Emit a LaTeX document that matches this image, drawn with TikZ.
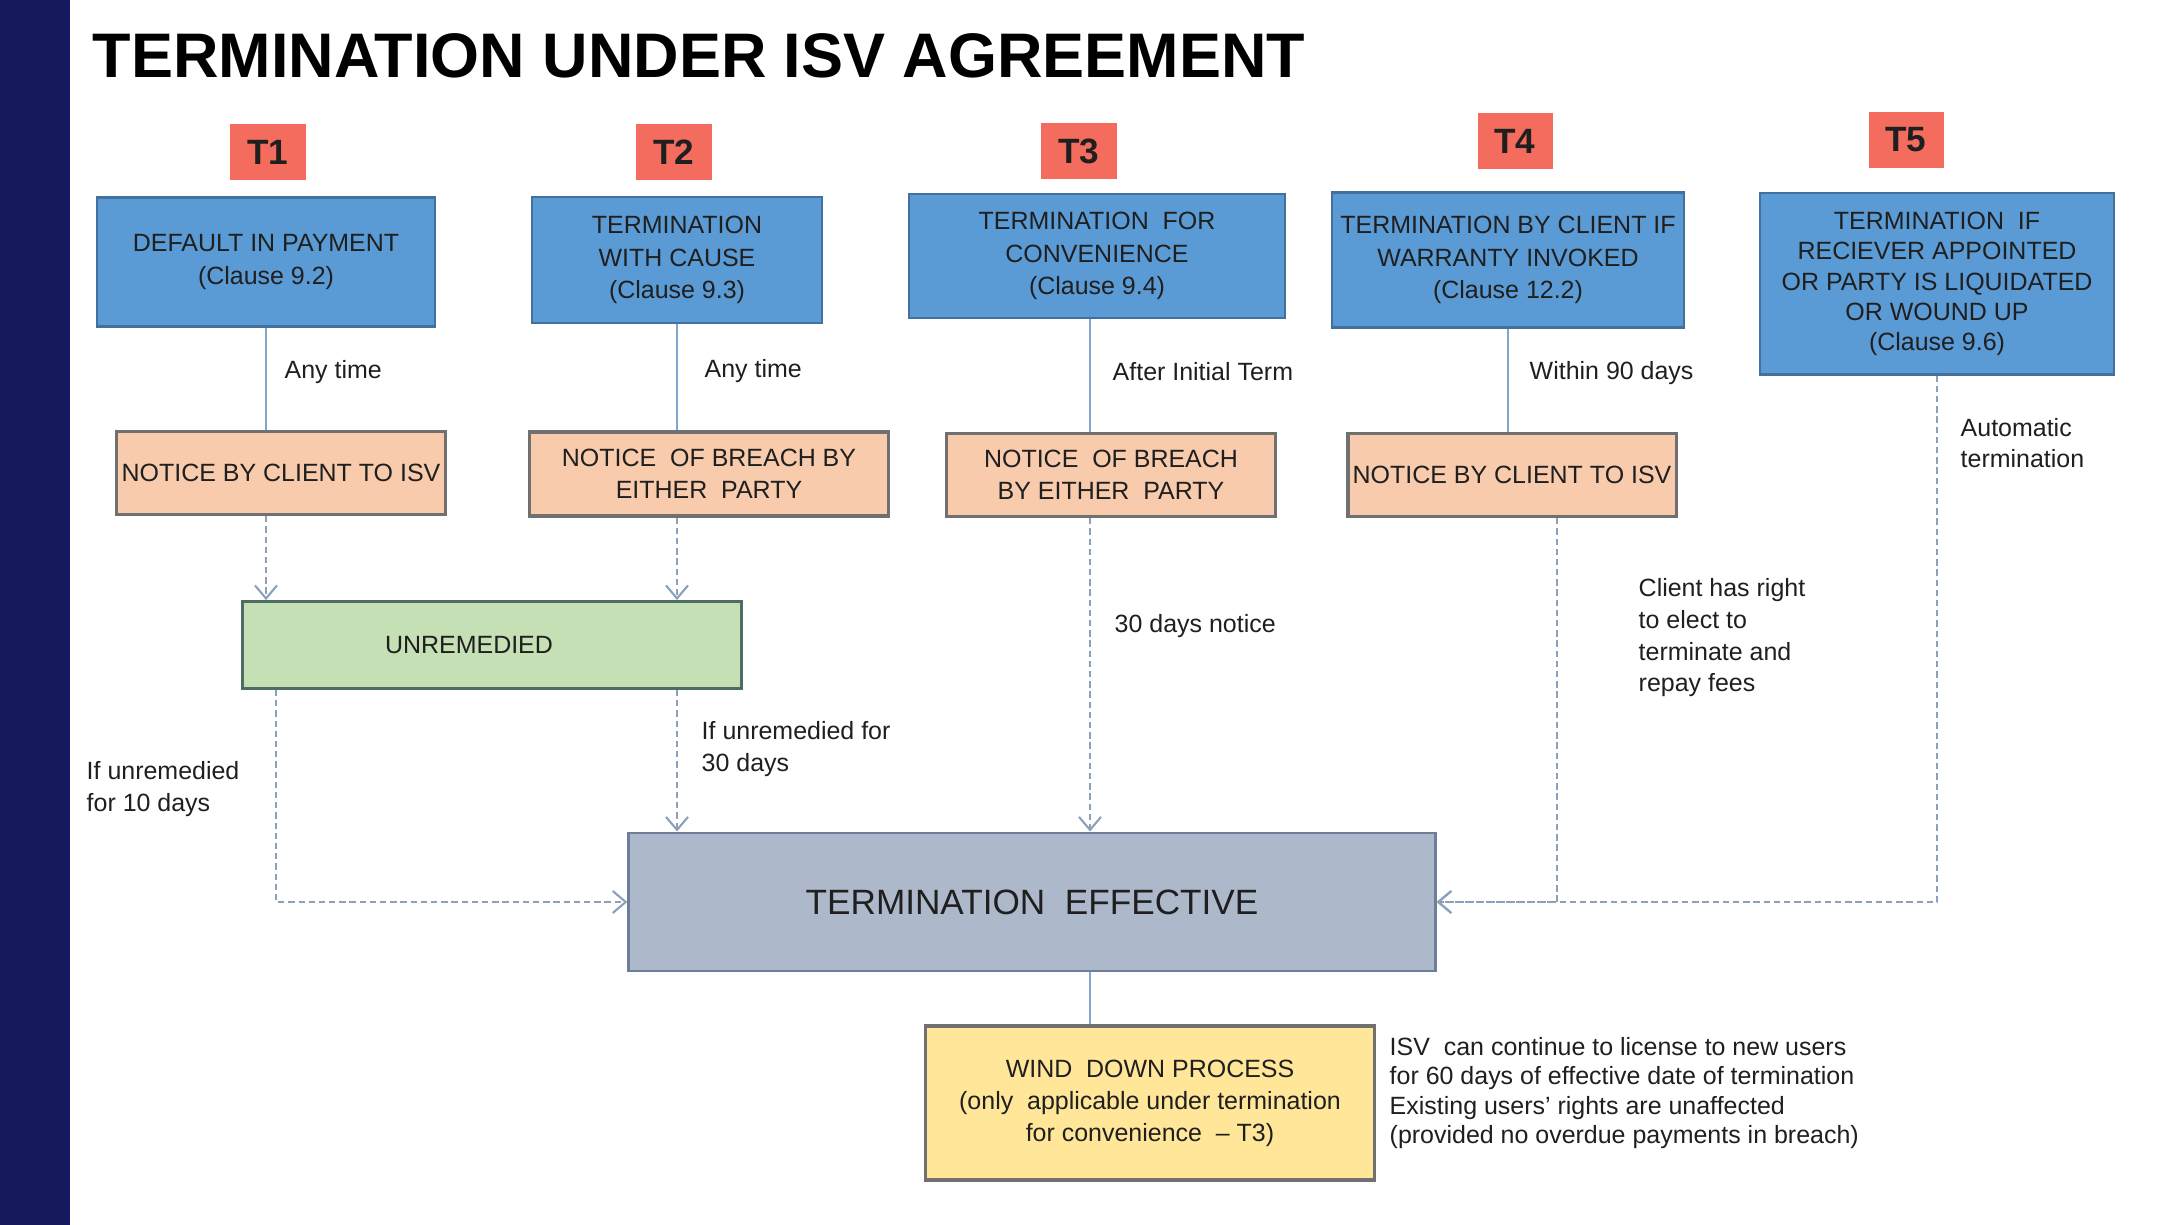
\documentclass[tikz,border=0pt]{standalone}
\usepackage{fontspec}
\setmainfont{Liberation Sans}
\usetikzlibrary{arrows.meta}

\definecolor{barnavy}{RGB}{22,25,94}
\definecolor{tred}{RGB}{244,108,94}
\definecolor{bluefill}{RGB}{91,155,213}
\definecolor{blueedge}{RGB}{65,113,156}
\definecolor{peachfill}{RGB}{248,203,173}
\definecolor{greenfill}{RGB}{197,224,180}
\definecolor{greenedge}{RGB}{78,108,100}
\definecolor{slatefill}{RGB}{173,185,202}
\definecolor{slateedge}{RGB}{108,126,154}
\definecolor{yellowfill}{RGB}{255,230,153}
\definecolor{boxgray}{RGB}{112,112,112}
\definecolor{solidline}{RGB}{126,166,206}
\definecolor{dashline}{RGB}{140,160,185}

\begin{document}
\begin{tikzpicture}[x=0.01cm,y=-0.01cm,
    every node/.style={font=\fontsize{7.1}{8.5}\selectfont, align=center, text=black!88},
    tbox/.style={fill=tred, minimum width=0.75cm, minimum height=0.56cm, font=\fontsize{10}{12}\selectfont\bfseries},
    bluebox/.style={draw=blueedge, fill=bluefill, line width=0.6pt, inner xsep=1pt, font=\fontsize{7.1}{9.3}\selectfont},
    peachbox/.style={draw=boxgray, fill=peachfill, line width=0.9pt, inner xsep=1pt, font=\fontsize{7.1}{9.1}\selectfont},
    lbl/.style={anchor=west, align=left, inner sep=0pt, font=\fontsize{7.1}{9}\selectfont},
    sline/.style={draw=solidline, line width=0.6pt},
    dline/.style={draw=dashline, line width=0.6pt, dash pattern=on 1.8pt off 1.1pt,
        -{Straight Barb[length=1.3mm, width=2.2mm]}},
]

    % frame
    \useasboundingbox (0,0) rectangle (2176,1225);
    \fill[barnavy] (0,0) rectangle (70,1225);
    \node[font=\fontsize{17.9}{20}\selectfont\bfseries, text=black] (title) at (699,56) {TERMINATION UNDER ISV AGREEMENT};

    % routes T1 - T5
    \node[tbox] (t1) at (268,152) {T1};
    \node[tbox] (t2) at (674,152) {T2};
    \node[tbox] (t3) at (1079,151) {T3};
    \node[tbox] (t4) at (1515,141) {T4};
    \node[tbox] (t5) at (1906,140) {T5};

    \node[bluebox, minimum width=3.37cm, minimum height=1.29cm] (b1) at (266,262) {DEFAULT IN PAYMENT\\(Clause 9.2)};
    \node[bluebox, minimum width=2.90cm, minimum height=1.26cm] (b2) at (677,260) {TERMINATION\\WITH CAUSE\\(Clause 9.3)};
    \node[bluebox, minimum width=3.76cm, minimum height=1.24cm] (b3) at (1097,256) {TERMINATION\ \ FOR\\CONVENIENCE\\(Clause 9.4)};
    \node[bluebox, minimum width=3.51cm, minimum height=1.35cm] (b4) at (1508,260) {TERMINATION BY CLIENT IF\\WARRANTY INVOKED\\(Clause 12.2)};
    \node[bluebox, minimum width=3.53cm, minimum height=1.81cm, font=\fontsize{7.1}{8.6}\selectfont] (b5) at (1937,284) {TERMINATION\ \ IF\\RECIEVER APPOINTED\\OR PARTY IS LIQUIDATED\\OR WOUND UP\\(Clause 9.6)};

    \node[peachbox, minimum width=3.29cm, minimum height=0.83cm] (p1) at (281,473) {NOTICE BY CLIENT TO ISV};
    \node[peachbox, minimum width=3.58cm, minimum height=0.84cm] (p2) at (709,474) {NOTICE\ \ OF BREACH BY\\EITHER\ \ PARTY};
    \node[peachbox, minimum width=3.29cm, minimum height=0.83cm] (p3) at (1111,475) {NOTICE\ \ OF BREACH\\BY EITHER\ \ PARTY};
    \node[peachbox, minimum width=3.28cm, minimum height=0.83cm] (p4) at (1512,475) {NOTICE BY CLIENT TO ISV};

    \node[draw=greenedge, fill=greenfill, line width=0.8pt, minimum width=4.98cm, minimum height=0.87cm] (unrem) at (492,645) {\hspace*{-0.46cm}UNREMEDIED};
    \node[draw=slateedge, fill=slatefill, line width=0.8pt, minimum width=8.06cm, minimum height=1.38cm, font=\fontsize{10}{12}\selectfont] (te) at (1032,902) {TERMINATION\ \ EFFECTIVE};
    \node[draw=boxgray, fill=yellowfill, line width=0.9pt, minimum width=4.49cm, minimum height=1.54cm, font=\fontsize{7.1}{9.1}\selectfont] (wind) at (1150,1103) {WIND\ \ DOWN PROCESS\\(only\ \ applicable under termination\\for convenience\ \ -- T3)};

    % labels
    \node[lbl] (l1) at (284,372) {Any time};
    \node[lbl] (l2) at (704,371) {Any time};
    \node[lbl] (l3) at (1112,372) {After Initial Term};
    \node[lbl] (l4) at (1529,373) {Within 90 days};
    \node[lbl] (l5) at (1960,443) {Automatic\\termination};
    \node[lbl] (l6) at (1114,626) {30 days notice};
    \node[lbl] (l7) at (1638,638) {Client has right\\to elect to\\terminate and\\repay fees};
    \node[lbl] (l8) at (701,749) {If unremedied for\\30 days};
    \node[lbl] (l9) at (86,789) {If unremedied\\for 10 days};
    \node[lbl, font=\fontsize{7.1}{8.3}\selectfont] (note) at (1389,1093) {ISV\ \ can continue to license to new users\\for 60 days of effective date of termination\\Existing users’ rights are unaffected\\(provided no overdue payments in breach)};

    \coordinate (c3) at (1090,0);

    \draw[sline] (b1.south) to (b1.south |- p1.north); % B1 -> P1
    \draw[sline] (b2.south) to (b2.south |- p2.north); % B2 -> P2
    \draw[sline] (b3.south -| c3) to (p3.north -| c3); % B3 -> P3
    \draw[sline] (b4.south) to (b4.south |- p4.north); % B4 -> P4
    \draw[dline] (b1.south |- p1.south) to (b1.south |- unrem.north); % P1 -> unremedied
    \draw[dline] (b2.south |- p2.south) to (b2.south |- unrem.north); % P2 -> unremedied
    \draw[dline] (b2.south |- unrem.south) to (b2.south |- te.north); % unremedied -> TE (30 days)
    \draw[dline] ([xshift=0.1cm]b1.south |- unrem.south) |- (te.west); % unremedied -> TE (10 days)
    \draw[dline] (p3.south -| c3) to (te.north -| c3); % P3 -> TE
    \draw[dline] ([xshift=0.45cm]p4.south) |- (te.east); % P4 -> TE
    \draw[dline] (b5.south) |- (te.east); % B5 -> TE (automatic)
    \draw[sline] (te.south -| c3) to (wind.north -| c3); % TE -> wind down

\end{tikzpicture}
\end{document}
